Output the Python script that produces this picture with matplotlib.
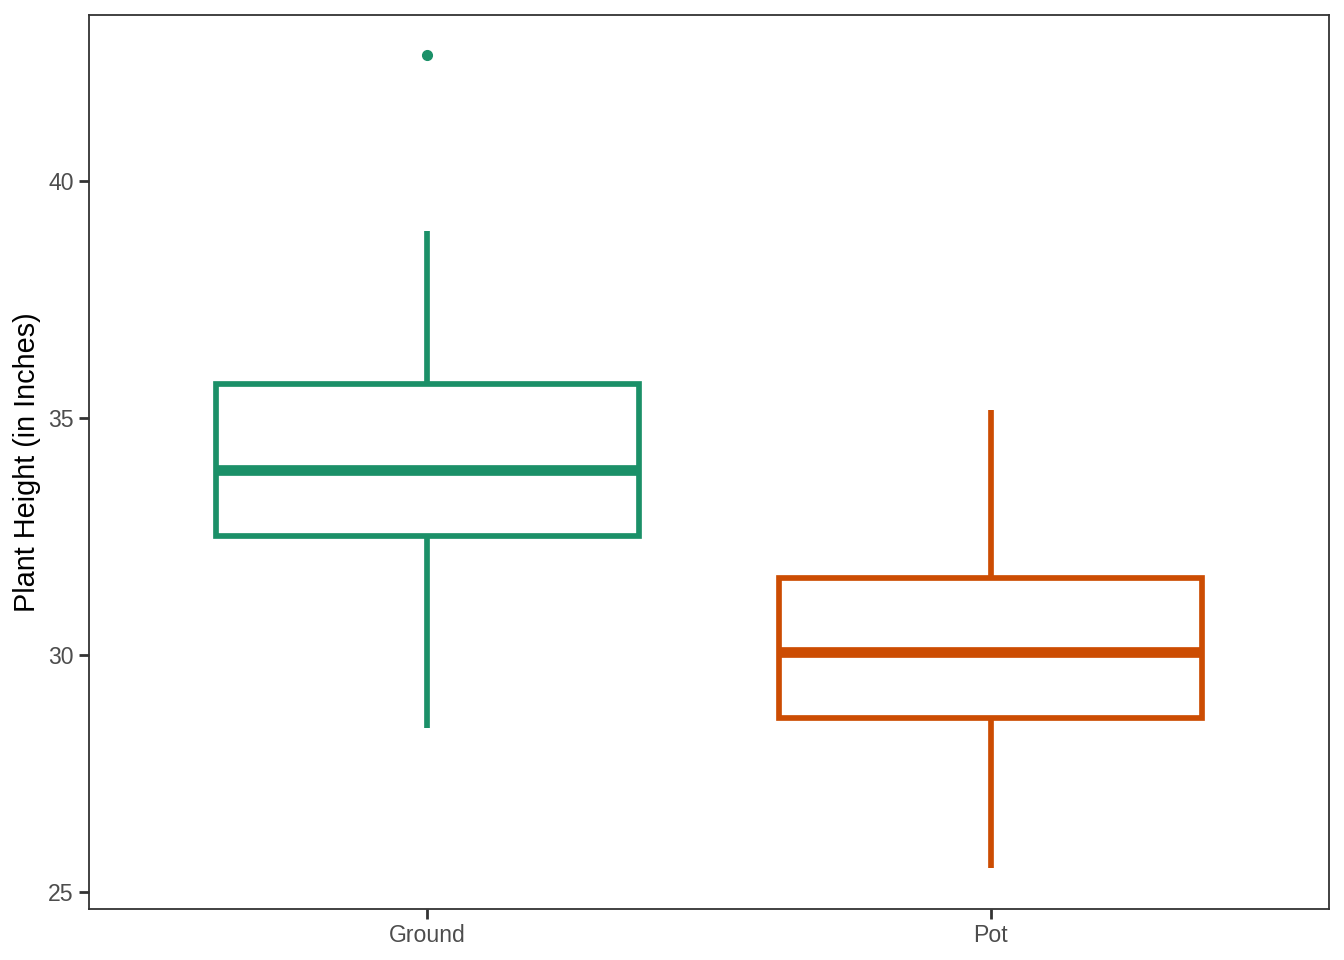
import matplotlib
matplotlib.use("Agg")
import matplotlib.pyplot as plt

plt.rcParams['font.family'] = ['Liberation Sans', 'DejaVu Sans']

# box statistics
groups = ['Ground', 'Pot']
whisker_low = [28.45, 25.5]
q1 = [32.5, 28.67]
medians = [33.9, 30.06]
q3 = [35.72, 31.62]
whisker_high = [38.95, 35.17]
outliers = [[42.65], []]
colors = ['#1B9068', '#CC4C02']

stats = []
for i, g in enumerate(groups):
    stats.append({'label': g, 'whislo': whisker_low[i], 'q1': q1[i],
                  'med': medians[i], 'q3': q3[i], 'whishi': whisker_high[i],
                  'fliers': outliers[i]})

fig = plt.figure(figsize=(13.44, 9.6), dpi=100)
ax = fig.add_axes([0.0662, 0.0531, 0.9226, 0.9313])

bp = ax.bxp(stats, positions=[1, 2], widths=0.75, showcaps=False,
            patch_artist=True)
for i, c in enumerate(colors):
    bp['boxes'][i].set(facecolor='white', edgecolor=c, linewidth=4.1)
    bp['medians'][i].set(color=c, linewidth=7.7, solid_capstyle='butt')
    for w in bp['whiskers'][2 * i:2 * i + 2]:
        w.set(color=c, linewidth=4.1, solid_capstyle='butt')
    bp['fliers'][i].set(marker='o', markerfacecolor=c, markeredgecolor=c,
                        markersize=7)

ax.set_xlim(0.4, 2.6)
ax.set_ylim(24.64, 43.5)
ax.set_yticks([25, 30, 35, 40])
ax.set_xticks([1, 2])
ax.set_xticklabels(groups)
ax.set_ylabel('Plant Height (in Inches)', fontsize=20.8, color='black', labelpad=5)
ax.tick_params(labelsize=16.6, labelcolor='#4D4D4D', color='#333333',
               length=7, width=2, pad=4)
for s in ax.spines.values():
    s.set_color('#333333')
    s.set_linewidth(1.3)

fig.savefig('out.png', dpi=100)
